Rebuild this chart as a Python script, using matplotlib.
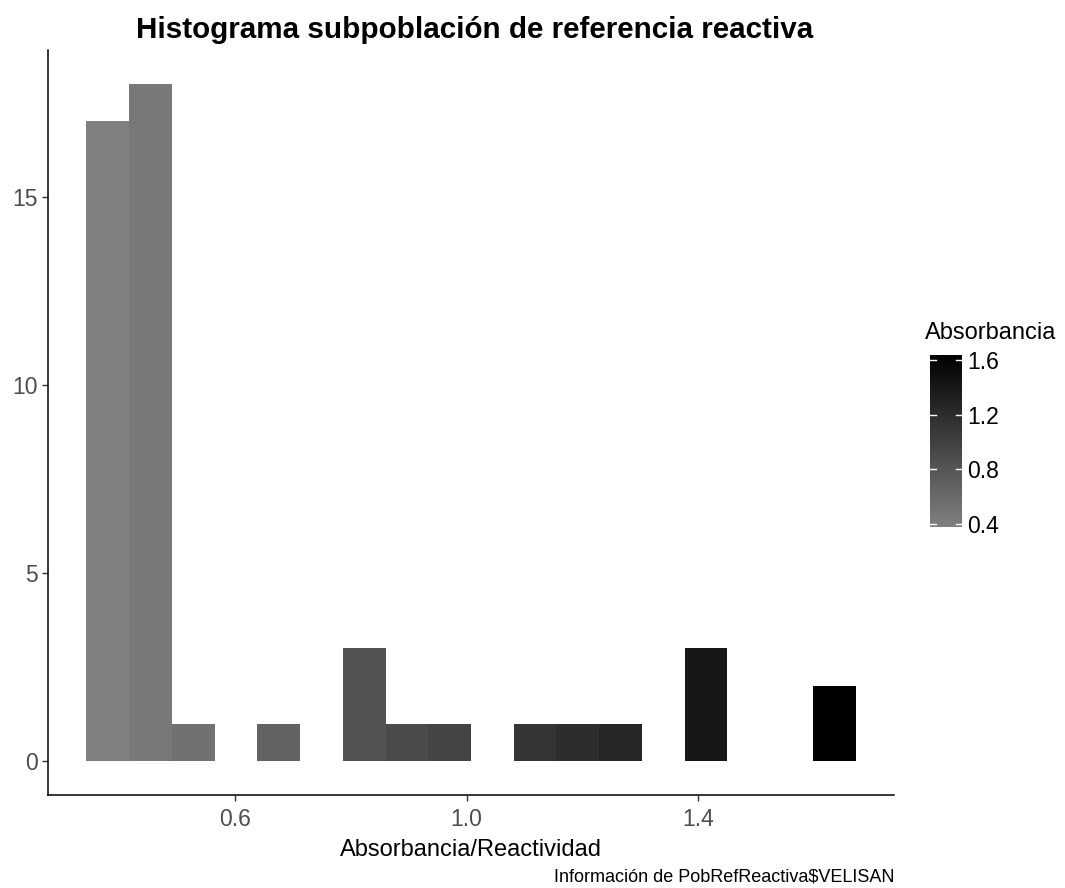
import numpy as np
import matplotlib.pyplot as plt
from matplotlib.colors import LinearSegmentedColormap, Normalize

plt.rcParams['font.family'] = ['Liberation Sans', 'DejaVu Sans']

# histogram bins
bin_start = 0.3426
bin_width = 0.0739
counts = [17, 18, 1, 0, 1, 0, 3, 1, 1, 0, 1, 1, 1, 0, 3, 0, 0, 2]

x_ticks = [0.6, 1.0, 1.4]
y_ticks = [0, 5, 10, 15]
cbar_ticks = [0.4, 0.8, 1.2, 1.6]

title = "Histograma subpoblación de referencia reactiva"
xlabel = "Absorbancia/Reactividad"
legend_title = "Absorbancia"
caption = "Información de PobRefReactiva$VELISAN"


def main():
    n = len(counts)
    centers = bin_start + bin_width * (np.arange(n) + 0.5)
    cmap = LinearSegmentedColormap.from_list("grays", ["#808080", "#000000"])
    norm = Normalize(vmin=centers.min(), vmax=centers.max())

    fig = plt.figure(figsize=(10.65, 8.88), dpi=100)
    ax = fig.add_axes([48 / 1065, 1 - 795 / 888, (894 - 48) / 1065, (795 - 50) / 888])

    ax.bar(centers, counts, width=bin_width, color=cmap(norm(centers)), linewidth=0)

    # ggplot-like expansion
    lo, hi = bin_start, bin_start + n * bin_width
    pad = 0.05 * (hi - lo)
    ax.set_xlim(lo - pad, hi + pad)
    ymax = max(counts)
    ax.set_ylim(-0.05 * ymax, ymax * 1.05)

    ax.set_xticks(x_ticks)
    ax.set_xticklabels([f"{t:.1f}" for t in x_ticks])
    ax.set_yticks(y_ticks)
    ax.tick_params(axis='both', labelsize=16.5, colors='#333333', labelcolor='#4d4d4d',
                   length=4, width=1)
    ax.tick_params(axis='x', pad=5)
    for side in ['top', 'right']:
        ax.spines[side].set_visible(False)
    for side in ['left', 'bottom']:
        ax.spines[side].set_color('black')
        ax.spines[side].set_linewidth(1.1)

    ax.set_xlabel(xlabel, fontsize=17, labelpad=6)
    fig.text(475 / 1065, 1 - 30 / 888, title,
             ha='center', va='center', fontsize=21.3, fontweight='bold')
    fig.text(894 / 1065, 1 - 877 / 888, caption, ha='right', va='center', fontsize=13)

    # colour bar legend
    cax = fig.add_axes([930 / 1065, 1 - 527 / 888, 32 / 1065, 172 / 888])
    grad = np.linspace(norm.vmin, norm.vmax, 256).reshape(-1, 1)
    cax.imshow(grad, aspect='auto', cmap=cmap, norm=norm, origin='lower',
               extent=[0, 1, norm.vmin, norm.vmax])
    cax.set_xlim(0, 1)
    cax.set_ylim(norm.vmin, norm.vmax)
    cax.set_xticks([])
    cax.yaxis.tick_right()
    cax.set_yticks(cbar_ticks)
    cax.set_yticklabels([f"{t:.1f}" for t in cbar_ticks])
    cax.tick_params(axis='y', length=0, labelsize=16.5, labelcolor='black', pad=4)
    for t in cbar_ticks:
        cax.plot([0, 0.2], [t, t], color='white', lw=1)
        cax.plot([0.8, 1], [t, t], color='white', lw=1)
    for s in cax.spines.values():
        s.set_visible(False)
    fig.text(925 / 1065, 1 - 333 / 888, legend_title, ha='left', va='center', fontsize=17)

    fig.savefig("out.png", dpi=100)


if __name__ == "__main__":
    main()
